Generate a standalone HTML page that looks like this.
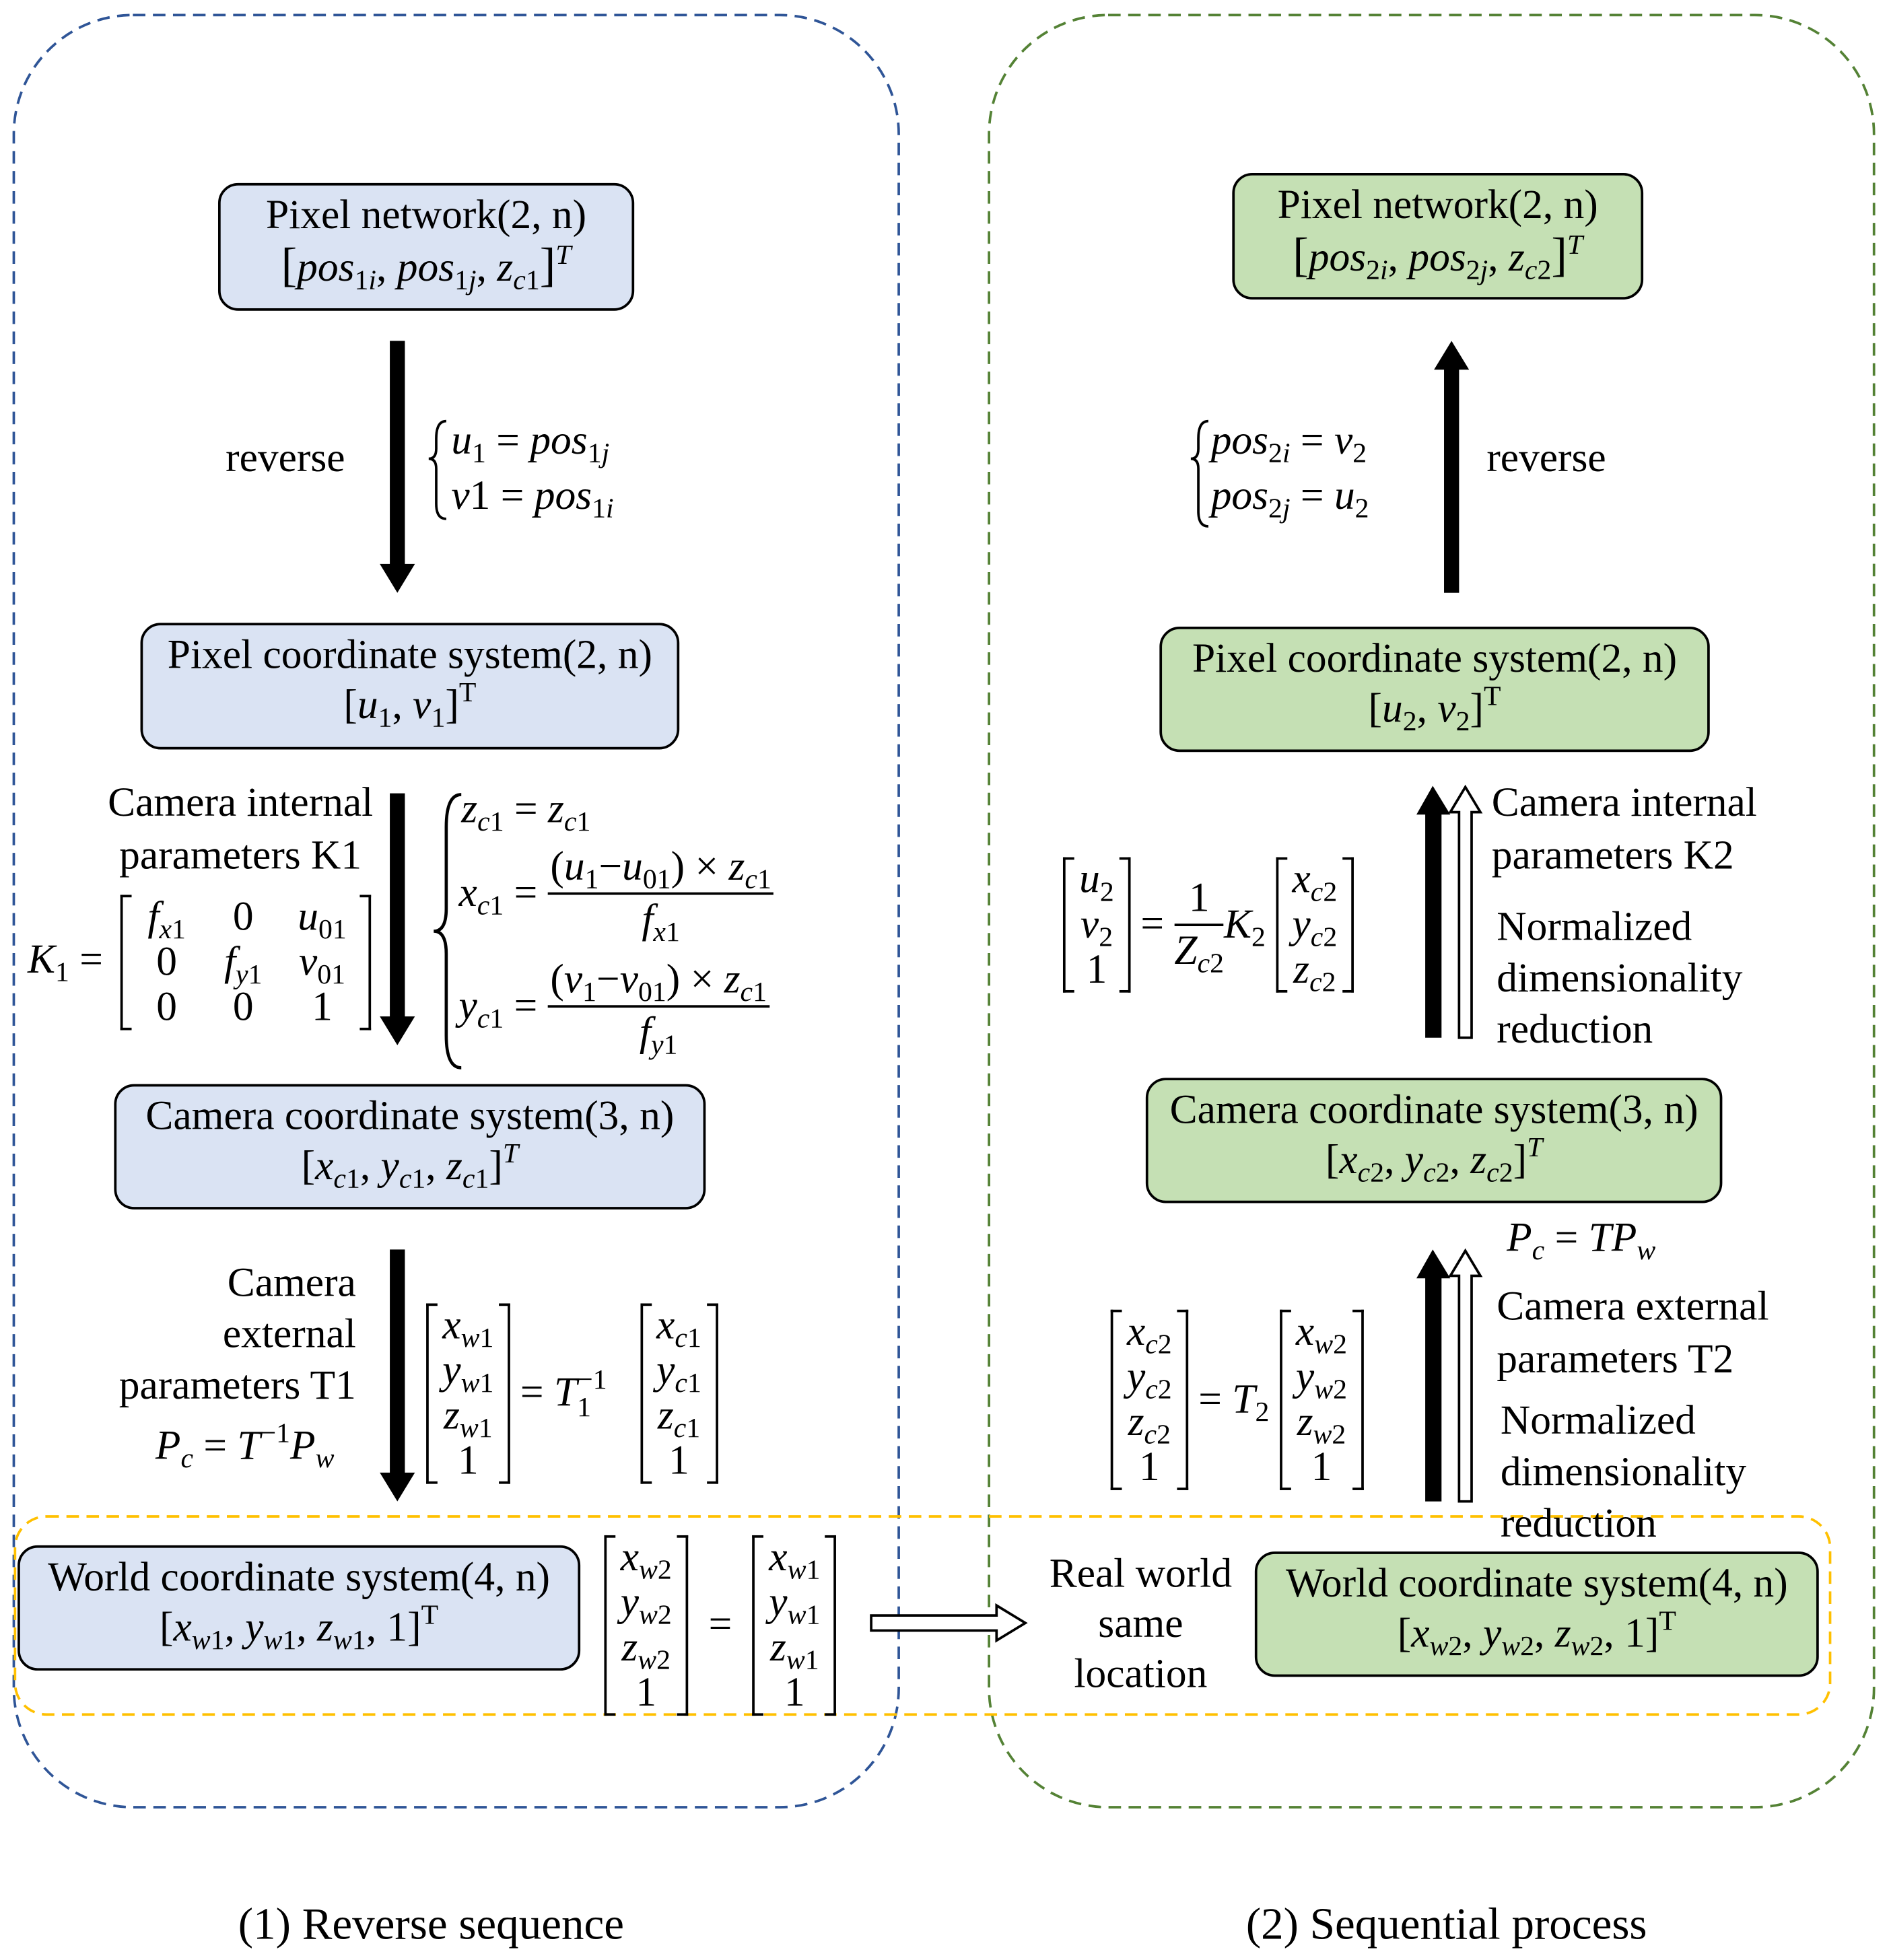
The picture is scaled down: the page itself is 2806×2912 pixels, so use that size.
<!DOCTYPE html>
<html><head><meta charset="utf-8">
<style>
html,body{margin:0;padding:0;background:#fff;}
body{width:2806px;height:2912px;overflow:hidden;position:relative;}
#c{position:absolute;left:0;top:0;width:1507px;height:1564px;transform:scale(1.862);transform-origin:0 0;font-family:"Liberation Serif",serif;font-size:33px;color:#000;}
.a{position:absolute;white-space:nowrap;}
.box{position:absolute;border:2.5px solid #000;border-radius:16px;box-sizing:border-box;text-align:center;line-height:40px;padding-top:4px;white-space:nowrap;}
.bb{background:#dae3f3;}
.gb{background:#c5e0b4;}
i{font-style:italic;}
sub{font-size:0.68em;vertical-align:-0.3em;line-height:0;}
sup{font-size:0.68em;vertical-align:0.6em;line-height:0;}
.mx{display:inline-flex;align-items:stretch;vertical-align:middle;}
.bl{width:7px;border:2.5px solid #000;border-right:none;}
.br{width:7px;border:2.5px solid #000;border-left:none;}
.col{display:block;text-align:center;line-height:36px;padding:0 4px;}
.col>span{display:block;}
.frac{display:inline-block;vertical-align:middle;text-align:center;line-height:40px;}
.frac>span{display:block;}
.frac>span:first-child{border-bottom:2px solid #000;padding:0 2px;}
.st{display:inline-block;vertical-align:middle;font-size:0.68em;line-height:1;}
</style></head><body>
<div id="c">
<svg class="a" style="left:0;top:0" width="1507" height="1564">
<rect x="11" y="12" width="706" height="1430" rx="95" fill="none" stroke="#2f5597" stroke-width="2" stroke-dasharray="10,6"/>
<rect x="789" y="12" width="706" height="1430" rx="95" fill="none" stroke="#548235" stroke-width="2" stroke-dasharray="10,6"/>
<rect x="12" y="1210" width="1448" height="158" rx="25" fill="none" stroke="#ffc000" stroke-width="2" stroke-dasharray="10,6"/>
<g fill="#000">
<rect x="311" y="272" width="12" height="180"/><polygon points="303,450 331,450 317,473"/>
<rect x="311" y="633" width="12" height="180"/><polygon points="303,811 331,811 317,834"/>
<rect x="311" y="997" width="12" height="180"/><polygon points="303,1175 331,1175 317,1198"/>
<rect x="1152" y="293" width="12" height="180"/><polygon points="1144,295 1172,295 1158,272"/>
<rect x="1137" y="648" width="13" height="180"/><polygon points="1130,650 1157,650 1143,627"/>
<rect x="1137" y="1018" width="13" height="180"/><polygon points="1130,1020 1157,1020 1143,997"/>
</g>
<g fill="#fff" stroke="#000" stroke-width="2">
<polygon points="1164,828 1174,828 1174,648 1181,648 1169,628 1157,648 1164,648"/>
<polygon points="1164,1198 1174,1198 1174,1018 1181,1018 1169,998 1157,1018 1164,1018"/>
<polygon points="695,1289 795,1289 795,1281 818,1295 795,1309 795,1301 695,1301"/>
</g>
<path d="M368,634 Q356,634 356,660 L356,725 Q356,743 346,743 Q356,743 356,761 L356,826 Q356,852 368,852" fill="none" stroke="#000" stroke-width="2.5"/>
<path d="M356,336 Q348,336 348,350 L348,358 Q348,366 342,366 Q348,366 348,374 L348,402 Q348,414 356,414" fill="none" stroke="#000" stroke-width="2"/>
<path d="M964,336 Q956,336 956,350 L956,358 Q956,366 950,366 Q956,366 956,374 L956,408 Q956,420 964,420" fill="none" stroke="#000" stroke-width="2"/>
</svg>

<div class="box bb" style="left:174px;top:146px;width:332px;height:102px;">Pixel network(2, n)<br><span style="font-size:38px">[</span><i>pos</i><sub>1<i>i</i></sub>, <i>pos</i><sub>1<i>j</i></sub>, <i>z</i><sub><i>c</i>1</sub><span style="font-size:38px">]</span><sup><i>T</i></sup></div>
<div class="box bb" style="left:112px;top:497px;width:430px;height:101px;">Pixel coordinate system(2, n)<br>[<i>u</i><sub>1</sub>, <i>v</i><sub>1</sub>]<sup>T</sup></div>
<div class="box bb" style="left:91px;top:865px;width:472px;height:100px;">Camera coordinate system(3, n)<br>[<i>x</i><sub><i>c</i>1</sub>, <i>y</i><sub><i>c</i>1</sub>, <i>z</i><sub><i>c</i>1</sub>]<sup><i>T</i></sup></div>
<div class="box bb" style="left:14px;top:1233px;width:449px;height:100px;">World coordinate system(4, n)<br>[<i>x</i><sub><i>w</i>1</sub>, <i>y</i><sub><i>w</i>1</sub>, <i>z</i><sub><i>w</i>1</sub>, 1]<sup>T</sup></div>

<div class="box gb" style="left:983px;top:138px;width:328px;height:101px;">Pixel network(2, n)<br><span style="font-size:38px">[</span><i>pos</i><sub>2<i>i</i></sub>, <i>pos</i><sub>2<i>j</i></sub>, <i>z</i><sub><i>c</i>2</sub><span style="font-size:38px">]</span><sup><i>T</i></sup></div>
<div class="box gb" style="left:925px;top:500px;width:439px;height:100px;">Pixel coordinate system(2, n)<br>[<i>u</i><sub>2</sub>, <i>v</i><sub>2</sub>]<sup>T</sup></div>
<div class="box gb" style="left:914px;top:860px;width:460px;height:100px;">Camera coordinate system(3, n)<br>[<i>x</i><sub><i>c</i>2</sub>, <i>y</i><sub><i>c</i>2</sub>, <i>z</i><sub><i>c</i>2</sub>]<sup><i>T</i></sup></div>
<div class="box gb" style="left:1001px;top:1238px;width:450px;height:100px;">World coordinate system(4, n)<br>[<i>x</i><sub><i>w</i>2</sub>, <i>y</i><sub><i>w</i>2</sub>, <i>z</i><sub><i>w</i>2</sub>, 1]<sup>T</sup></div>

<div class="a" style="left:180px;top:348px;">reverse</div>
<div class="a" style="left:360px;top:330px;line-height:44px;"><i>u</i><sub>1</sub> = <i>pos</i><sub>1<i>j</i></sub><br><i>v</i>1 = <i>pos</i><sub>1<i>i</i></sub></div>

<div class="a" style="left:86px;top:620px;text-align:center;line-height:42px;">Camera internal<br>parameters K1</div>
<div class="a" style="left:22px;top:748px;"><i>K</i><sub>1</sub> =</div>
<div class="a" style="left:96px;top:714px;display:flex;align-items:stretch;">
<span class="bl"></span>
<div style="display:grid;grid-template-columns:56px 66px 60px;text-align:center;line-height:36px;"><span><i>f</i><sub><i>x</i>1</sub></span><span>0</span><span><i>u</i><sub>01</sub></span><span>0</span><span><i>f</i><sub><i>y</i>1</sub></span><span><i>v</i><sub>01</sub></span><span>0</span><span>0</span><span>1</span></div>
<span class="br"></span></div>
<div class="a" style="left:368px;top:628px;"><i>z</i><sub><i>c</i>1</sub> = <i>z</i><sub><i>c</i>1</sub></div>
<div class="a" style="left:366px;top:672px;"><span style="vertical-align:middle"><i>x</i><sub><i>c</i>1</sub> = </span><span class="frac"><span>(<i>u</i><sub>1</sub>−<i>u</i><sub>01</sub>) × <i>z</i><sub><i>c</i>1</sub></span><span><i>f</i><sub><i>x</i>1</sub></span></span></div>
<div class="a" style="left:366px;top:762px;"><span style="vertical-align:middle"><i>y</i><sub><i>c</i>1</sub> = </span><span class="frac"><span>(<i>v</i><sub>1</sub>−<i>v</i><sub>01</sub>) × <i>z</i><sub><i>c</i>1</sub></span><span><i>f</i><sub><i>y</i>1</sub></span></span></div>

<div class="a" style="left:80px;top:1004px;text-align:right;width:204px;line-height:41px;">Camera<br>external<br>parameters T1</div>
<div class="a" style="left:124px;top:1136px;"><i>P</i><sub><i>c</i></sub> = <i>T</i><sup>−1</sup><i>P</i><sub><i>w</i></sub></div>
<div class="a" style="left:340px;top:1040px;">
<span class="mx"><span class="bl"></span><div class="col"><span><i>x</i><sub><i>w</i>1</sub></span><span><i>y</i><sub><i>w</i>1</sub></span><span><i>z</i><sub><i>w</i>1</sub></span><span>1</span></div><span class="br"></span></span>
<span style="vertical-align:middle"> = <i>T</i></span><span class="st">−1<br>1</span>&nbsp;
<span class="mx" style="margin-left:10px"><span class="bl"></span><div class="col"><span><i>x</i><sub><i>c</i>1</sub></span><span><i>y</i><sub><i>c</i>1</sub></span><span><i>z</i><sub><i>c</i>1</sub></span><span>1</span></div><span class="br"></span></span></div>

<div class="a" style="left:482px;top:1225px;">
<span class="mx"><span class="bl"></span><div class="col"><span><i>x</i><sub><i>w</i>2</sub></span><span><i>y</i><sub><i>w</i>2</sub></span><span><i>z</i><sub><i>w</i>2</sub></span><span>1</span></div><span class="br"></span></span>
<span style="vertical-align:middle">&nbsp;=&nbsp;</span>
<span class="mx"><span class="bl"></span><div class="col"><span><i>x</i><sub><i>w</i>1</sub></span><span><i>y</i><sub><i>w</i>1</sub></span><span><i>z</i><sub><i>w</i>1</sub></span><span>1</span></div><span class="br"></span></span></div>

<div class="a" style="left:966px;top:330px;line-height:44px;"><i>pos</i><sub>2<i>i</i></sub> = <i>v</i><sub>2</sub><br><i>pos</i><sub>2<i>j</i></sub> = <i>u</i><sub>2</sub></div>
<div class="a" style="left:1186px;top:348px;">reverse</div>

<div class="a" style="left:848px;top:684px;">
<span class="mx"><span class="bl"></span><div class="col"><span><i>u</i><sub>2</sub></span><span><i>v</i><sub>2</sub></span><span>1</span></div><span class="br"></span></span>
<span style="vertical-align:middle"> = </span><span class="frac"><span>1</span><span><i>Z</i><sub><i>c</i>2</sub></span></span><span style="vertical-align:middle"><i>K</i><sub>2</sub> </span>
<span class="mx"><span class="bl"></span><div class="col"><span><i>x</i><sub><i>c</i>2</sub></span><span><i>y</i><sub><i>c</i>2</sub></span><span><i>z</i><sub><i>c</i>2</sub></span></div><span class="br"></span></span></div>
<div class="a" style="left:1190px;top:620px;line-height:42px;">Camera internal<br>parameters K2</div>
<div class="a" style="left:1194px;top:720px;line-height:41px;">Normalized<br>dimensionality<br>reduction</div>

<div class="a" style="left:1202px;top:970px;"><i>P</i><sub><i>c</i></sub> = <i>TP</i><sub><i>w</i></sub></div>
<div class="a" style="left:1194px;top:1022px;line-height:42px;">Camera external<br>parameters T2</div>
<div class="a" style="left:1197px;top:1114px;line-height:41px;">Normalized<br>dimensionality<br>reduction</div>
<div class="a" style="left:886px;top:1045px;">
<span class="mx"><span class="bl"></span><div class="col"><span><i>x</i><sub><i>c</i>2</sub></span><span><i>y</i><sub><i>c</i>2</sub></span><span><i>z</i><sub><i>c</i>2</sub></span><span>1</span></div><span class="br"></span></span>
<span style="vertical-align:middle"> = <i>T</i><sub>2</sub> </span>
<span class="mx"><span class="bl"></span><div class="col"><span><i>x</i><sub><i>w</i>2</sub></span><span><i>y</i><sub><i>w</i>2</sub></span><span><i>z</i><sub><i>w</i>2</sub></span><span>1</span></div><span class="br"></span></span></div>

<div class="a" style="left:830px;top:1236px;width:160px;text-align:center;line-height:40px;">Real world<br>same<br>location</div>

<div class="a" style="left:190px;top:1514px;font-size:36px;">(1) Reverse sequence</div>
<div class="a" style="left:994px;top:1514px;font-size:36px;">(2) Sequential process</div>
</div>
</body></html>
